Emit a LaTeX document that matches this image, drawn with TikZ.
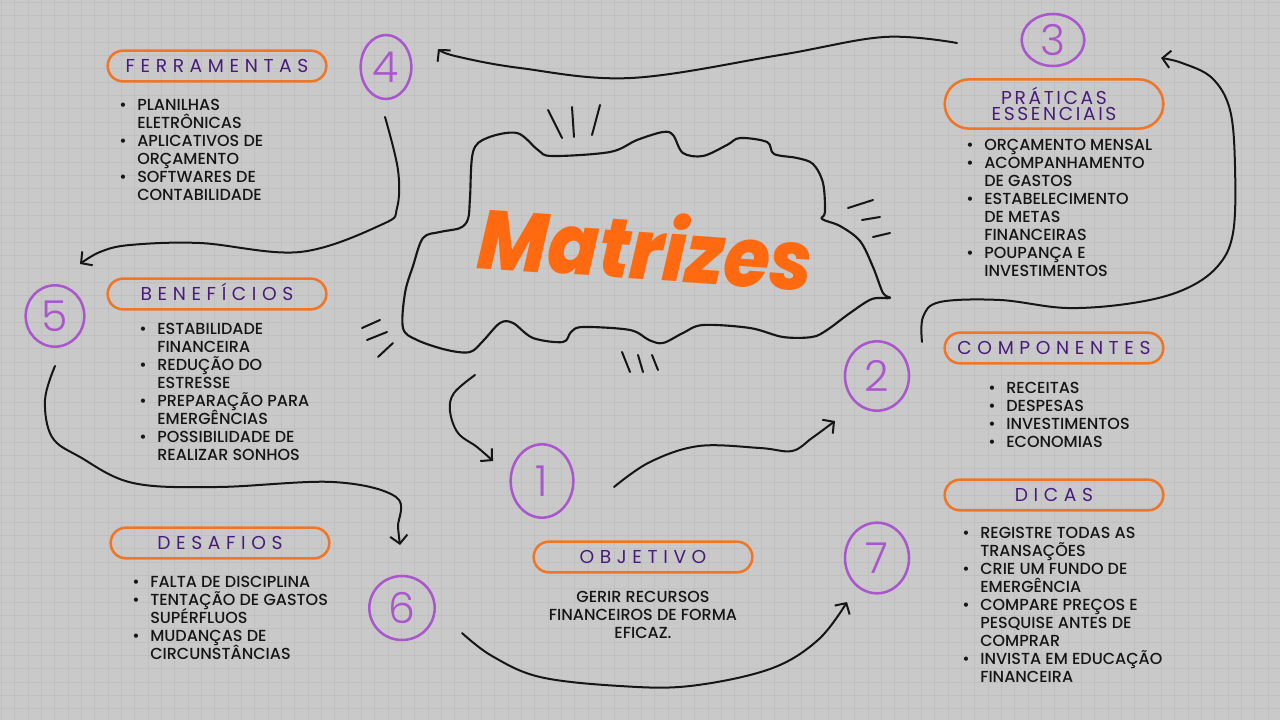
\documentclass[tikz,border=0pt]{standalone}
\usepackage{fontspec}
\setmainfont{Poppins Medium}
\newfontfamily\spacedfont[LetterSpace=30]{Poppins}
\newfontfamily\tightfont[LetterSpace=14]{Poppins}
\newfontfamily\ringfont{Poppins Light}
\usetikzlibrary{shapes.misc,shapes.geometric,arrows.meta}

\definecolor{paper}{RGB}{201,201,201}
\definecolor{gridgray}{RGB}{192,192,192}
\definecolor{boxorange}{RGB}{240,118,38}
\definecolor{titleorange}{RGB}{255,106,16}
\definecolor{headpurple}{RGB}{72,28,122}
\definecolor{numpurple}{RGB}{170,86,204}
\definecolor{ink}{RGB}{22,22,22}

% bullet line and continued line of a list
\newcommand{\bl}{\makebox[13.5pt][l]{\textbullet}}
\newcommand{\ct}{\hspace*{13.5pt}}
\newcommand{\listfont}{\fontsize{12}{13.5}\selectfont\lineskiplimit=-20pt\relax}

\tikzset{
  headbox/.style={rounded rectangle, draw=boxorange, line width=1.9pt,
    minimum width=164pt, minimum height=23pt, inner sep=0pt,
    text=headpurple, font=\fontsize{14}{14}\spacedfont,
    text height=9.8pt, text depth=0pt},
  numring/.style={ellipse, draw=numpurple, line width=1.9pt, inner sep=0pt,
    text=numpurple, font=\fontsize{32}{32}\ringfont},
  listtext/.style={anchor=north west, inner sep=0pt, text=ink, align=left,
    font=\listfont},
  arrowline/.style={draw=ink, line width=1.5pt, line cap=round, line join=round,
    -{Straight Barb[length=6pt,width=13pt,line width=1.5pt]}},
  cloudline/.style={draw=ink, line width=1.6pt, line join=round},
  tickline/.style={draw=ink, line width=1.5pt, line cap=round}
}

\begin{document}
\begin{tikzpicture}[x=0.75pt,y=-0.75pt]
  % paper and grid
  \fill[paper] (0,0) rectangle (1280,720);
  \useasboundingbox (0,0) rectangle (1280,720);
  \foreach \gx in {0,...,96}
    \draw[gridgray, line width=0.4pt] ({\gx*13.333+1.3},0) -- ++(0,720);
  \foreach \gy in {0,...,54}
    \draw[gridgray, line width=0.4pt] (0,{\gy*13.333+2}) -- ++(1280,0);

  % central cloud
  \draw[cloudline] plot[smooth cycle, tension=0.55] coordinates {
    (473,152) (487,138) (517,133) (538,150) (552,156) (610,152) (637,140)
    (663,132) (673,135) (683,153) (703,156) (727,145) (740,138) (767,142)
    (774,154) (797,158) (813,164) (823,183) (825,212) (822,219) (840,226)
    (860,241) (873,267) (883,293) (890,298) (872,299) (850,313) (827,330)
    (812,337) (783,337) (750,328) (703,325) (683,333) (663,343) (649,340)
    (630,330) (583,327) (571,332) (563,342) (533,338) (513,323) (500,323)
    (483,341) (470,352) (447,350) (417,340) (403,328) (405,293) (413,266)
    (423,238) (440,232) (460,228) (468,219) (470,198)};
  \node[text=titleorange, rotate=-4, yscale=1.12, inner sep=0pt,
    font=\fontsize{56}{56}\selectfont\bfseries\itshape] (title) at (646,246) {Matrizes};

  % little strokes round the cloud
  \foreach \ax/\ay/\bx/\by in {548/110/562/138, 572/107/574/137, 600/105/592/135,
      848/208/873/200, 862/220/880/217, 873/237/890/233,
      622/352/630/372, 638/355/643/372, 652/355/658/370,
      362/328/380/320, 367/340/387/332, 378/357/393/343}
    \draw[tickline] (\ax,\ay) -- (\bx,\by);

  % headings
  \node[headbox] (fer) at (217,66) {FERRAMENTAS};
  \node[headbox] (ben) at (217,294) {BENEFÍCIOS};
  \node[headbox] (des) at (220,543) {DESAFIOS};
  \node[headbox] (obj) at (643,557) {OBJETIVO};
  \node[headbox, minimum height=37pt, text height=, text depth=, align=center,
    font=\fontsize{14}{12.5}\tightfont] (pra) at (1054,104) {PRÁTICAS\\ESSENCIAIS};
  \node[headbox] (com) at (1054,348) {COMPONENTES};
  \node[headbox] (dic) at (1054,495) {DICAS};

  % lists
  \node[listtext] (fer-list) at (119,99.4) {\bl PLANILHAS\\ \ct ELETRÔNICAS\\
    \bl APLICATIVOS DE\\ \ct ORÇAMENTO\\ \bl SOFTWARES DE\\ \ct CONTABILIDADE};
  \node[listtext] (ben-list) at (139,323.4) {\bl ESTABILIDADE\\ \ct FINANCEIRA\\
    \bl REDUÇÃO DO\\ \ct ESTRESSE\\ \bl PREPARAÇÃO PARA\\ \ct EMERGÊNCIAS\\
    \bl POSSIBILIDADE DE\\ \ct REALIZAR SONHOS};
  \node[listtext] (des-list) at (132,576.4) {\bl FALTA DE DISCIPLINA\\
    \bl TENTAÇÃO DE GASTOS\\ \ct SUPÉRFLUOS\\ \bl MUDANÇAS DE\\ \ct CIRCUNSTÂNCIAS};
  \node[listtext, anchor=north, align=center] (obj-text) at (643,591.4)
    {GERIR RECURSOS\\FINANCEIROS DE FORMA\\EFICAZ.};
  \node[listtext] (pra-list) at (966,139.4) {\bl ORÇAMENTO MENSAL\\
    \bl ACOMPANHAMENTO\\ \ct DE GASTOS\\ \bl ESTABELECIMENTO\\ \ct DE METAS\\
    \ct FINANCEIRAS\\ \bl POUPANÇA E\\ \ct INVESTIMENTOS};
  \node[listtext] (com-list) at (988,382.4) {\bl RECEITAS\\ \bl DESPESAS\\
    \bl INVESTIMENTOS\\ \bl ECONOMIAS};
  \node[listtext] (dic-list) at (962,527.4) {\bl REGISTRE TODAS AS\\ \ct TRANSAÇÕES\\
    \bl CRIE UM FUNDO DE\\ \ct EMERGÊNCIA\\ \bl COMPARE PREÇOS E\\
    \ct PESQUISE ANTES DE\\ \ct COMPRAR\\ \bl INVISTA EM EDUCAÇÃO\\ \ct FINANCEIRA};

  % numbered rings
  \node[numring, minimum width=47pt, minimum height=55pt] (n1) at (542,481) {1};
  \node[numring, minimum width=48pt, minimum height=52pt] (n2) at (877,376) {2};
  \node[numring, minimum width=47pt, minimum height=39pt] (n3) at (1053,40) {3};
  \node[numring, minimum width=38pt, minimum height=48pt] (n4) at (386,67) {4};
  \node[numring, minimum width=44pt, minimum height=46pt] (n5) at (55,316) {5};
  \node[numring, minimum width=49pt, minimum height=48pt] (n6) at (402,608) {6};
  \node[numring, minimum width=48pt, minimum height=53pt] (n7) at (877,558) {7};

  % connector ends
  \coordinate (a-from) at (957,43);  \coordinate (a-to) at (438,49);
  \coordinate (b-from) at (385,117); \coordinate (b-to) at (80,264);
  \coordinate (c-from) at (55,366);  \coordinate (c-to) at (400,545);
  \coordinate (d-from) at (475,375); \coordinate (d-to) at (493,461);
  \coordinate (e-from) at (614,487); \coordinate (e-to) at (835,421);
  \coordinate (f-from) at (462,633); \coordinate (f-to) at (847,602);
  \coordinate (g-from) at (922,342); \coordinate (g-to) at (1161,58);

  % connectors
  \draw[arrowline] plot[smooth, tension=0.6] coordinates {(a-from) (884,37)
    (780,55) (631,78) (520,68) (455,56) (a-to)};
  \draw[arrowline] plot[smooth, tension=0.6] coordinates {(b-from) (398,170)
    (397,208) (383,224) (300,252) (200,243) (130,245) (100,252) (b-to)};
  \draw[arrowline] plot[smooth, tension=0.6] coordinates {(c-from) (45,400)
    (52,437) (80,457) (133,483) (217,487) (333,482) (396,497) (398,527) (c-to)};
  \draw[arrowline] plot[smooth, tension=0.6] coordinates {(d-from) (454,393)
    (450,411) (458,433) (477,447) (d-to)};
  \draw[arrowline] plot[smooth, tension=0.6] coordinates {(e-from) (650,462)
    (699,446) (760,448) (792,451) (812,438) (e-to)};
  \draw[arrowline] plot[smooth, tension=0.6] coordinates {(f-from) (492,656)
    (540,677) (620,686) (690,686) (770,669) (818,640) (f-to)};
  \draw[arrowline] plot[smooth, tension=0.6] coordinates {(g-from) (923,317)
    (940,302) (1000,300) (1067,308) (1133,303) (1183,290) (1217,267) (1233,233)
    (1235,167) (1230,110) (1212,78) (1182,63) (g-to)};
\end{tikzpicture}
\end{document}
